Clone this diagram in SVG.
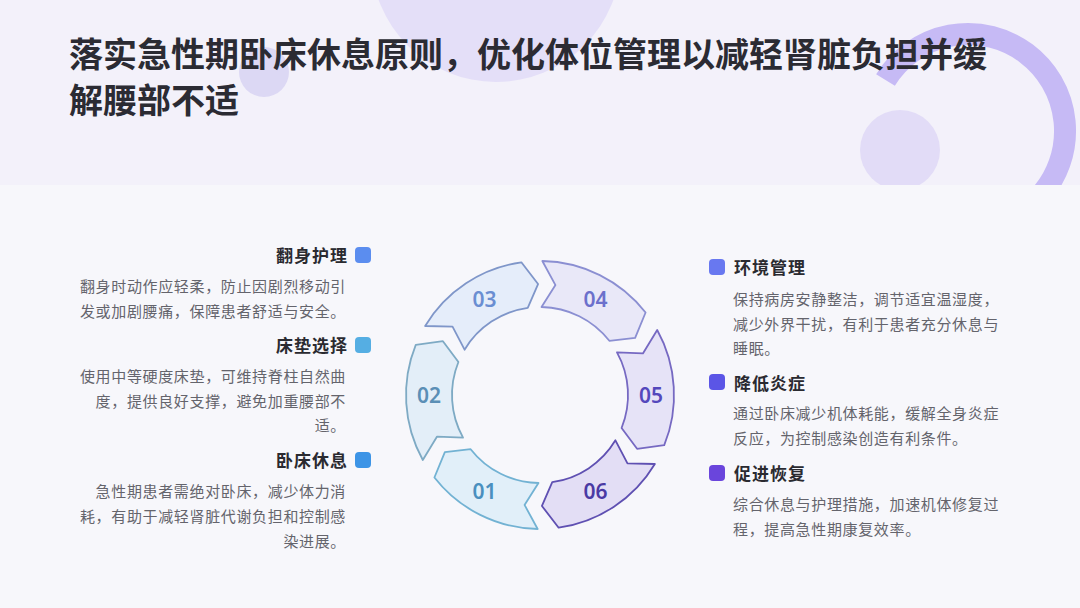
<svg xmlns="http://www.w3.org/2000/svg" width="1080" height="608" viewBox="0 0 1080 608">
<defs>
<clipPath id="hdr"><rect x="0" y="0" width="1080" height="185"/></clipPath>
<style>
.title{font-family:"Noto Sans CJK SC","Noto Sans",sans-serif;font-weight:700;font-size:34px;fill:#2b2b33}
.hd{font-family:"Noto Sans CJK SC","Noto Sans",sans-serif;font-weight:700;font-size:17px;fill:#2a2a30;letter-spacing:1px}
.bd{font-family:"Noto Sans CJK SC","Noto Sans",sans-serif;font-weight:400;font-size:15px;fill:#64646c;letter-spacing:0.65px}
.l{text-anchor:end}
.num{font-family:"Noto Sans","Open Sans",sans-serif;font-weight:600;font-size:21px;text-anchor:middle}
.seg{stroke-width:1.8;stroke-linejoin:round}
</style>
</defs>
<rect x="0" y="0" width="1080" height="608" fill="#f7f7fb"/>
<g id="header">
<rect x="0" y="0" width="1080" height="185" fill="#f3f1fa"/>
<g clip-path="url(#hdr)">
<circle cx="496" cy="-43" r="125" fill="#e4dff8"/>
<circle cx="264" cy="72" r="25" fill="#dcd8f4"/>
<path d="M 885.5 80 A 97 97 0 1 1 1040 196" fill="none" stroke="#c6baf5" stroke-width="22"/>
<circle cx="900" cy="150" r="40" fill="#e2dcf7"/>
</g>
<text class="title" x="69" y="67">落实急性期卧床休息原则，优化体位管理以减轻肾脏负担并缓</text>
<text class="title" x="69" y="113">解腰部不适</text>
</g>
<g id="connectors"></g>
<g id="seg01">
<path class="seg" fill="#e1eff9" stroke="#72b2d3" d="M 537.66 528.98 A 134 134 0 0 1 434.41 477.50 L 444.85 452.17 L 470.65 449.18 A 88 88 0 0 0 538.46 482.99 L 524.55 504.92 Z"/>
<text class="num" x="484.5" y="499" fill="#4a8fbf">01</text>
</g>
<g id="seg02">
<path class="seg" fill="#e3eef8" stroke="#7eaac4" d="M 422.80 459.96 A 134 134 0 0 1 415.76 344.80 L 442.92 341.19 L 458.41 362.03 A 88 88 0 0 0 463.03 437.66 L 437.08 436.58 Z"/>
<text class="num" x="429" y="403" fill="#5b8fb6">02</text>
</g>
<g id="seg03">
<path class="seg" fill="#e5edfa" stroke="#7f96c9" d="M 425.14 325.99 A 134 134 0 0 1 521.35 262.30 L 538.06 284.02 L 527.75 307.86 A 88 88 0 0 0 464.57 349.68 L 452.53 326.66 Z"/>
<text class="num" x="484.5" y="307" fill="#6a8ed2">03</text>
</g>
<g id="seg04">
<path class="seg" fill="#e9e8f8" stroke="#8b8fd2" d="M 542.34 261.02 A 134 134 0 0 1 645.59 312.50 L 635.15 337.83 L 609.35 340.82 A 88 88 0 0 0 541.54 307.01 L 555.45 285.08 Z"/>
<text class="num" x="595.5" y="307" fill="#6c70cc">04</text>
</g>
<g id="seg05">
<path class="seg" fill="#e6e3f7" stroke="#7669c2" d="M 657.20 330.04 A 134 134 0 0 1 664.24 445.20 L 637.08 448.81 L 621.59 427.97 A 88 88 0 0 0 616.97 352.34 L 642.92 353.42 Z"/>
<text class="num" x="651" y="403" fill="#5448bc">05</text>
</g>
<g id="seg06">
<path class="seg" fill="#e3def5" stroke="#5f50b2" d="M 654.86 464.01 A 134 134 0 0 1 558.65 527.70 L 541.94 505.98 L 552.25 482.14 A 88 88 0 0 0 615.43 440.32 L 627.47 463.34 Z"/>
<text class="num" x="595.5" y="499" fill="#4a3aa4">06</text>
</g>
<g id="item-fanshen">
<rect x="355" y="247" width="16" height="16" rx="4" fill="#5b8def"/>
<text class="hd l" x="348" y="262">翻身护理</text>
<text class="bd l" x="346" y="292">翻身时动作应轻柔，防止因剧烈移动引</text>
<text class="bd l" x="346" y="317">发或加剧腰痛，保障患者舒适与安全。</text>
</g>
<g id="item-chuangdian">
<rect x="355" y="337" width="16" height="16" rx="4" fill="#55aee3"/>
<text class="hd l" x="348" y="352">床垫选择</text>
<text class="bd l" x="346" y="382">使用中等硬度床垫，可维持脊柱自然曲</text>
<text class="bd l" x="346" y="407">度，提供良好支撑，避免加重腰部不</text>
<text class="bd l" x="346" y="431">适。</text>
</g>
<g id="item-wochuang">
<rect x="355" y="452" width="16" height="16" rx="4" fill="#3d94e6"/>
<text class="hd l" x="348" y="467">卧床休息</text>
<text class="bd l" x="346" y="497">急性期患者需绝对卧床，减少体力消</text>
<text class="bd l" x="346" y="522">耗，有助于减轻肾脏代谢负担和控制感</text>
<text class="bd l" x="346" y="547">染进展。</text>
</g>
<g id="item-huanjing">
<rect x="709" y="259" width="16" height="16" rx="4" fill="#6878f0"/>
<text class="hd" x="734" y="274">环境管理</text>
<text class="bd" x="733" y="305">保持病房安静整洁，调节适宜温湿度，</text>
<text class="bd" x="733" y="330">减少外界干扰，有利于患者充分休息与</text>
<text class="bd" x="733" y="354">睡眠。</text>
</g>
<g id="item-jiangdi">
<rect x="709" y="374" width="16" height="16" rx="4" fill="#5b55e6"/>
<text class="hd" x="734" y="390">降低炎症</text>
<text class="bd" x="733" y="419">通过卧床减少机体耗能，缓解全身炎症</text>
<text class="bd" x="733" y="444">反应，为控制感染创造有利条件。</text>
</g>
<g id="item-cujin">
<rect x="709" y="465" width="16" height="16" rx="4" fill="#6a45dc"/>
<text class="hd" x="734" y="480">促进恢复</text>
<text class="bd" x="733" y="510">综合休息与护理措施，加速机体修复过</text>
<text class="bd" x="733" y="535">程，提高急性期康复效率。</text>
</g>
</svg>
